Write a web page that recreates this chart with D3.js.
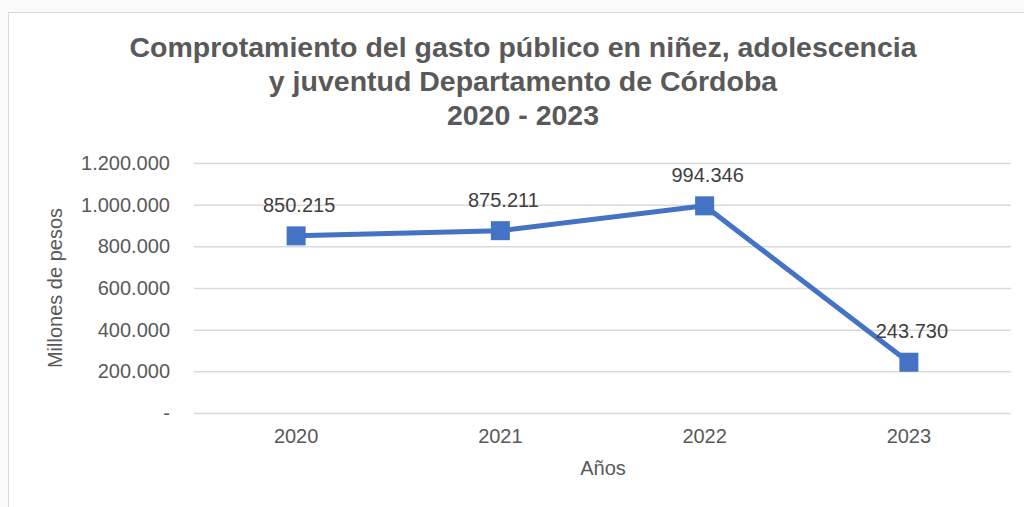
<!DOCTYPE html>
<html>
<head>
<meta charset="utf-8">
<script src="https://cdn.jsdelivr.net/npm/d3@7"></script>
<style>
  html, body { margin: 0; padding: 0; background: #fafafa; overflow: hidden; }
  svg { display: block; font-family: "Liberation Sans", Arial, sans-serif; }
</style>
</head>
<body>
<svg id="chart" width="1024" height="507"></svg>
<script>
// Gasto público en niñez, adolescencia y juventud (millones de pesos)
const years = ["2020", "2021", "2022", "2023"];
const gasto = [850215, 875211, 994346, 243730];
const yTicks = [0, 200000, 400000, 600000, 800000, 1000000, 1200000];
const titleLines = [
  "Comprotamiento del gasto público en niñez, adolescencia",
  "y juventud Departamento de Córdoba",
  "2020 - 2023"
];

const svg = d3.select("#chart");

// chart frame
svg.append("rect")
  .attr("x", 8.5).attr("y", 12.5)
  .attr("width", 1030).attr("height", 520)
  .attr("fill", "#ffffff")
  .attr("stroke", "#d9d9d9").attr("stroke-width", 1);

const plot = { left: 194, right: 1011, top: 163, bottom: 413 };

const x = d3.scaleBand().domain(years).range([plot.left, plot.right]);
const y = d3.scaleLinear().domain([0, 1200000]).range([plot.bottom, plot.top]);

const fmt = v => v === 0 ? "-" : d3.format(",")(v).replace(/,/g, ".");

// title
svg.append("g").selectAll("text").data(titleLines).join("text")
  .attr("x", 523)
  .attr("y", (d, i) => 57 + i * 34)
  .attr("text-anchor", "middle")
  .attr("font-size", 28.5).attr("font-weight", "bold")
  .attr("fill", "#595959")
  .text(d => d);

// gridlines + y labels
const yAxis = svg.append("g")
  .attr("transform", `translate(${plot.left},0)`)
  .call(d3.axisLeft(y).tickValues(yTicks).tickSize(-(plot.right - plot.left)).tickPadding(24).tickFormat(fmt));
yAxis.select(".domain").remove();
yAxis.selectAll(".tick line").attr("stroke", "#d9d9d9").attr("stroke-width", 1.5);
yAxis.selectAll(".tick text")
  .attr("font-size", 20).attr("fill", "#595959")
  .attr("font-family", "Liberation Sans, Arial, sans-serif");

// x labels
const xAxis = svg.append("g")
  .attr("transform", `translate(0,${plot.bottom})`)
  .call(d3.axisBottom(x).tickSize(0).tickPadding(16));
xAxis.select(".domain").remove();
xAxis.selectAll(".tick text")
  .attr("font-size", 20).attr("fill", "#595959")
  .attr("font-family", "Liberation Sans, Arial, sans-serif");

// axis titles
svg.append("text")
  .attr("x", 603).attr("y", 475)
  .attr("text-anchor", "middle")
  .attr("font-size", 20).attr("fill", "#595959")
  .text("Años");
svg.append("text")
  .attr("transform", "translate(62,288) rotate(-90)")
  .attr("text-anchor", "middle")
  .attr("font-size", 20).attr("fill", "#595959")
  .text("Millones de pesos");

const cx = d => x(d) + x.bandwidth() / 2;
const pts = years.map((yr, i) => ({ yr, v: gasto[i] }));

// line
svg.append("path")
  .datum(pts)
  .attr("fill", "none")
  .attr("stroke", "#4472C4").attr("stroke-width", 5)
  .attr("stroke-linejoin", "round")
  .attr("d", d3.line().x(d => cx(d.yr)).y(d => y(d.v)));

// markers
const m = 19;
svg.append("g").selectAll("rect").data(pts).join("rect")
  .attr("x", d => cx(d.yr) - m / 2)
  .attr("y", d => y(d.v) - m / 2)
  .attr("width", m).attr("height", m)
  .attr("fill", "#4472C4");

// data labels
svg.append("g").selectAll("text").data(pts).join("text")
  .attr("x", d => cx(d.yr) + 3)
  .attr("y", d => y(d.v) - 24)
  .attr("text-anchor", "middle")
  .attr("font-size", 20).attr("fill", "#404040")
  .text(d => fmt(d.v));
</script>
</body>
</html>
